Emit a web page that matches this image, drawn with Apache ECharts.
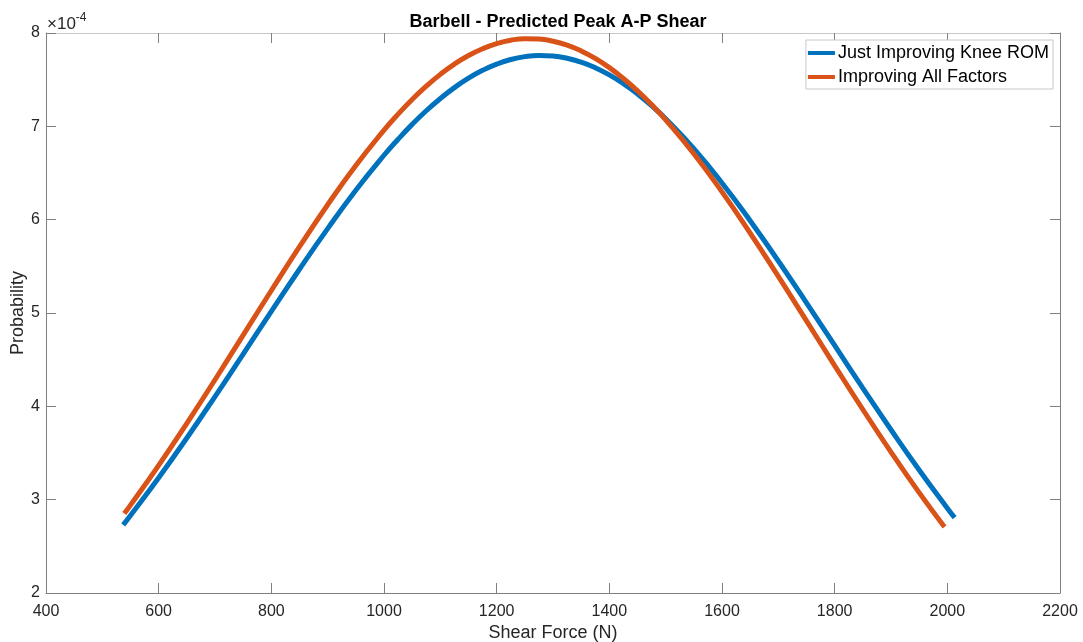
<!DOCTYPE html>
<html>
<head>
<meta charset="utf-8">
<script src="https://cdn.jsdelivr.net/npm/echarts@6/dist/echarts.min.js"></script>
<style>html,body{margin:0;padding:0;background:#fff}#c{width:1083px;height:642px}</style>
</head>
<body>
<div id="c"></div>
<script>
// Values in units of 1e-4 (axis multiplier shown as ×10^-4)
var blueX = [537,550,600,650,700,750,800,850,900,950,1000,1025,1050,1075,1100,1125,1150,1175,1200,1225,1250,1275,1300,1325,1350,1375,1400,1425,1450,1475,1500,1550,1600,1650,1700,1750,1800,1850,1900,1950,2000,2013];
var blueY = [2.730,2.831,3.235,3.661,4.105,4.560,5.017,5.469,5.904,6.315,6.690,6.861,7.021,7.167,7.298,7.415,7.516,7.600,7.667,7.716,7.747,7.760,7.754,7.730,7.688,7.628,7.551,7.457,7.347,7.221,7.081,6.760,6.393,5.989,5.557,5.109,4.652,4.196,3.749,3.318,2.909,2.807];
var orangeX = [539,550,600,650,700,750,800,850,900,950,1000,1025,1050,1075,1100,1125,1150,1175,1200,1225,1250,1275,1300,1325,1350,1375,1400,1425,1450,1475,1500,1550,1600,1650,1700,1750,1800,1850,1900,1950,1995];
var orangeY = [2.852,2.942,3.368,3.818,4.285,4.763,5.241,5.710,6.160,6.580,6.959,7.131,7.288,7.430,7.557,7.667,7.759,7.832,7.887,7.923,7.939,7.935,7.912,7.870,7.808,7.728,7.629,7.513,7.381,7.233,7.070,6.706,6.298,5.857,5.392,4.916,4.437,3.966,3.510,3.075,2.708];
var seriesNames = ['Just Improving Knee ROM','Improving All Factors'];
var xTicks = {min:400, max:2200, interval:200};
var yTicks = {min:2, max:8, interval:1};

function pairs(xs, ys){ return xs.map(function(x,i){ return [x, ys[i]]; }); }

var axisCol = '#808080';
var labelCol = '#262626';
var font = 'Liberation Sans, Arial, sans-serif';
var plain = function(v){ return String(v); };

var chart = echarts.init(document.getElementById('c'));
chart.setOption({
  animation:false,
  backgroundColor:'#fff',
  title:{text:'Barbell - Predicted Peak A-P Shear', left:553, top:8, textAlign:'center',
    textStyle:{fontFamily:font, fontSize:18, fontWeight:'bold', color:'#000'}},
  grid:{left:46, right:23, top:33, bottom:49, outerBoundsMode:'none', containLabel:false},
  legend:{orient:'vertical', right:30, top:40, itemWidth:27, itemHeight:4, itemGap:6,
    padding:[4,4,3,2], backgroundColor:'#fff', borderColor:'#c8c8c8', borderWidth:1,
    textStyle:{fontFamily:font, fontSize:18, lineHeight:18, color:'#000', padding:[0,0,0,-2]},
    icon:'rect', data:seriesNames},
  xAxis:[
    {type:'value', min:xTicks.min, max:xTicks.max, interval:xTicks.interval,
     name:'Shear Force (N)', nameLocation:'middle', nameGap:31, nameMoveOverlap:false,
     nameTextStyle:{fontFamily:font, fontSize:18, color:labelCol},
     axisLine:{show:true, lineStyle:{color:axisCol}},
     axisTick:{show:true, inside:true, length:10, lineStyle:{color:axisCol}},
     axisLabel:{fontFamily:font, fontSize:16, color:labelCol, margin:11, formatter:plain},
     splitLine:{show:false}},
    {type:'value', position:'top', min:xTicks.min, max:xTicks.max, interval:xTicks.interval,
     axisLine:{show:true, lineStyle:{color:'#c8c8c8'}},
     axisTick:{show:true, inside:true, length:10, lineStyle:{color:axisCol}},
     axisLabel:{show:false}, splitLine:{show:false}}
  ],
  yAxis:[
    {type:'value', min:yTicks.min, max:yTicks.max, interval:yTicks.interval,
     name:'Probability', nameLocation:'middle', nameGap:19, nameRotate:90, nameMoveOverlap:false,
     nameTextStyle:{fontFamily:font, fontSize:18, color:labelCol},
     axisLine:{show:true, lineStyle:{color:axisCol}},
     axisTick:{show:true, inside:true, length:10, lineStyle:{color:axisCol}},
     axisLabel:{fontFamily:font, fontSize:16, color:labelCol, margin:6, formatter:plain},
     splitLine:{show:false}},
    {type:'value', position:'right', min:yTicks.min, max:yTicks.max, interval:yTicks.interval,
     axisLine:{show:true, lineStyle:{color:axisCol}},
     axisTick:{show:true, inside:true, length:10, lineStyle:{color:axisCol}},
     axisLabel:{show:false}, splitLine:{show:false}}
  ],
  graphic:[{type:'text', left:47, top:12, style:{
    text:'{a|×10}{b|-4}', fontFamily:font,
    rich:{a:{fontSize:17, fontFamily:font, fill:labelCol, verticalAlign:'bottom'},
          b:{fontSize:12, fontFamily:font, fill:labelCol, verticalAlign:'top', padding:[0,0,9,0]}}}}],
  series:[
    {name:seriesNames[0], type:'line', data:pairs(blueX, blueY), smooth:true, showSymbol:false,
     color:'#0072BD', lineStyle:{width:5, color:'#0072BD', cap:'butt'}},
    {name:seriesNames[1], type:'line', data:pairs(orangeX, orangeY), smooth:true, showSymbol:false,
     color:'#D95319', lineStyle:{width:5, color:'#D95319', cap:'butt'}}
  ]
});
</script>
</body>
</html>
